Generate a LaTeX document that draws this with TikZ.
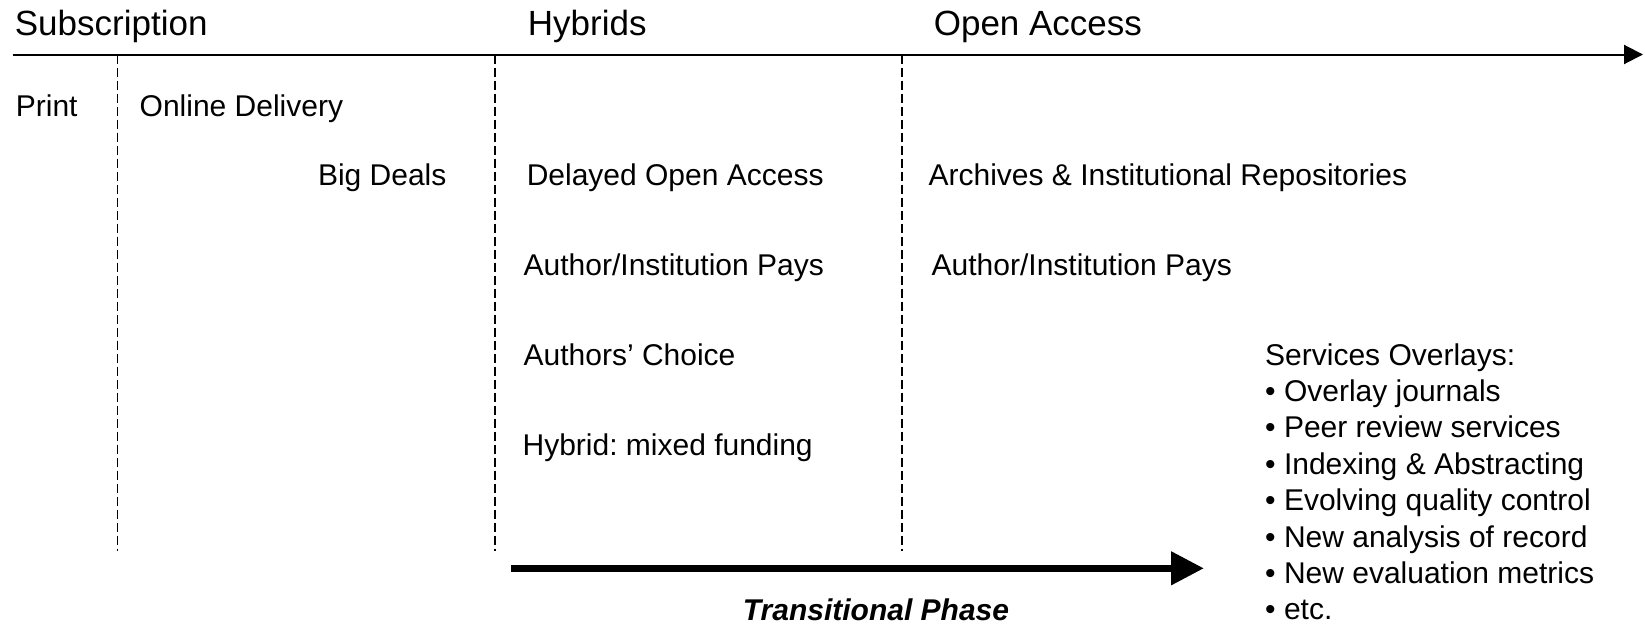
\documentclass[tikz,border=0pt]{standalone}
\usepackage{fontspec}
\setmainfont{Liberation Sans}
\usetikzlibrary{arrows.meta}
\frenchspacing
\begin{document}
\begin{tikzpicture}[x=1pt,y=-1pt,
  title/.style={anchor=base west,inner sep=0pt,font=\fontsize{35}{42}\selectfont},
  lbl/.style={anchor=base west,inner sep=0pt,font=\fontsize{30}{36}\selectfont},
  divider/.style={line width=1.3pt,dash pattern=on 9pt off 4pt},
  timeline/.style={line width=2pt,-{Triangle[length=19pt,width=19pt]}},
  phase/.style={line width=7.5pt,-{Triangle[length=33pt,width=32pt]}}]
\useasboundingbox (0,0) rectangle (1645,624);
% headings
\node[title] (sub) at (14.7,35.5) {Subscription};
\node[title] (hyb) at (527.7,35.5) {Hybrids};
\node[title] (oa) at (933.6,35.5) {Open Access};
% time line
\coordinate (tl) at (12.6,54.5);
\coordinate (tr) at (1643,54.5);
\draw[timeline] (tl) -- (tr);
% dividers
\coordinate (d1t) at (117.5,54.5); \coordinate (d1b) at (117.5,551);
\coordinate (d2t) at (495,54.5);   \coordinate (d2b) at (495,551);
\coordinate (d3t) at (902,54.5);   \coordinate (d3b) at (902,551);
\draw[divider] (d1t) -- (d1b);
\draw[divider] (d2t) -- (d2b);
\draw[divider] (d3t) -- (d3b);
% labels
\node[lbl] (print) at (15.7,116) {Print};
\node[lbl] (online) at (139.5,116) {Online Delivery};
\node[lbl] (big) at (317.8,185) {Big Deals};
\node[lbl] (delayed) at (526.6,185) {Delayed Open Access};
\node[lbl] (archives) at (928.4,185) {Archives \& Institutional Repositories};
\node[lbl] (aip1) at (523.5,275) {Author/Institution Pays};
\node[lbl] (aip2) at (931.5,275) {Author/Institution Pays};
\node[lbl] (choice) at (523.5,365) {Authors’ Choice};
\node[lbl] (mixed) at (522.4,455.5) {Hybrid: mixed funding};
% services
\node[lbl] (svc) at (1265,365) {Services Overlays:};
\node[lbl] (s1) at (1265,401.4) {• Overlay journals};
\node[lbl] (s2) at (1265,437.8) {• Peer review services};
\node[lbl] (s3) at (1265,474.2) {• Indexing \& Abstracting};
\node[lbl] (s4) at (1265,510.6) {• Evolving quality control};
\node[lbl] (s5) at (1265,547) {• New analysis of record};
\node[lbl] (s6) at (1265,583.4) {• New evaluation metrics};
\node[lbl] (s7) at (1265,619.8) {• etc.};
% transitional arrow
\coordinate (pa) at (511,568.3);
\coordinate (pb) at (1204,568.3);
\draw[phase] (pa) -- (pb);
\node[anchor=base,inner sep=0pt,font=\fontsize{30}{36}\selectfont\bfseries\itshape] (trans) at (876,620.5) {Transitional Phase};
\end{tikzpicture}
\end{document}
